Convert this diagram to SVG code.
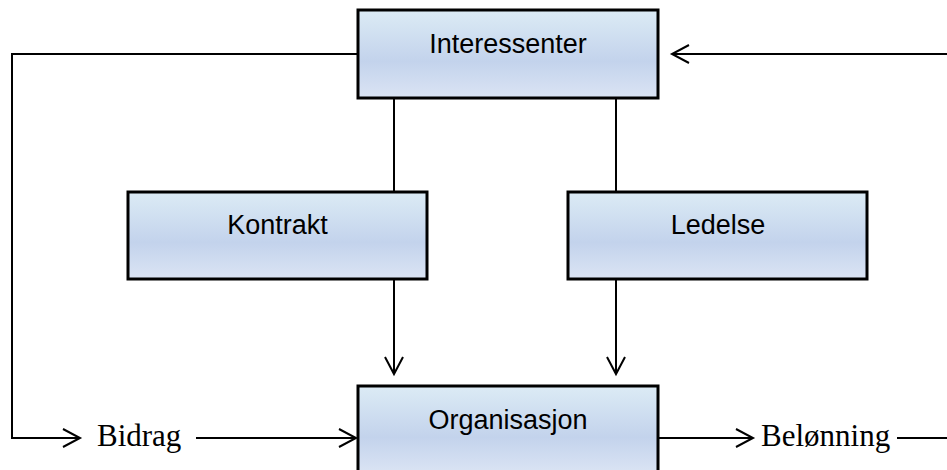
<svg xmlns="http://www.w3.org/2000/svg" width="947" height="470" viewBox="0 0 947 470">
  <defs>
    <linearGradient id="boxfill" x1="0" y1="0" x2="0" y2="1">
      <stop offset="0" stop-color="#dcebf5"/>
      <stop offset="0.58" stop-color="#c3d3ec"/>
      <stop offset="1" stop-color="#dbe4f4"/>
    </linearGradient>
    <marker id="arrow" markerUnits="userSpaceOnUse" markerWidth="24" markerHeight="24" viewBox="-20 -12 24 24" refX="0" refY="0" orient="auto" overflow="visible">
      <path d="M-17,-9 L0,0 L-17,9" fill="none" stroke="#000" stroke-width="2"/>
    </marker>
  </defs>
  <style>
    .box { fill: url(#boxfill); stroke: #000; stroke-width: 3; }
    .lbl { font-family: "Liberation Sans", Arial, sans-serif; font-size: 27px; fill: #000; text-anchor: middle; }
    .flow { font-family: "Liberation Serif", "Times New Roman", serif; font-size: 31px; fill: #000; }
    .conn { fill: none; stroke: #000; stroke-width: 2; }
  </style>
  <rect width="947" height="470" fill="#fff"/>
  <g id="connectors">
    <path class="conn" d="M358,54 H12 V438 H80" marker-end="url(#arrow)"/>
    <path class="conn" d="M196,438 H356" marker-end="url(#arrow)"/>
    <path class="conn" d="M658,438 H753" marker-end="url(#arrow)"/>
    <path class="conn" d="M897,438 H947"/>
    <path class="conn" d="M947,54 H672" marker-end="url(#arrow)"/>
    <path class="conn" d="M394,98 V192"/>
    <path class="conn" d="M616,98 V192"/>
    <path class="conn" d="M394,279 V374" marker-end="url(#arrow)"/>
    <path class="conn" d="M616,279 V374" marker-end="url(#arrow)"/>
  </g>
  <g id="interessenter">
    <rect class="box" x="358" y="10" width="300" height="88"/>
    <text class="lbl" x="508" y="53">Interessenter</text>
  </g>
  <g id="kontrakt">
    <rect class="box" x="128" y="192" width="299" height="87"/>
    <text class="lbl" x="277.5" y="234">Kontrakt</text>
  </g>
  <g id="ledelse">
    <rect class="box" x="568" y="192" width="299" height="87"/>
    <text class="lbl" x="718" y="234">Ledelse</text>
  </g>
  <g id="organisasjon">
    <rect class="box" x="358" y="386" width="300" height="88"/>
    <text class="lbl" x="508" y="429">Organisasjon</text>
  </g>
  <g id="bidrag">
    <text class="flow" x="97" y="446">Bidrag</text>
  </g>
  <g id="belonning">
    <text class="flow" x="761" y="446">Belønning</text>
  </g>
</svg>
